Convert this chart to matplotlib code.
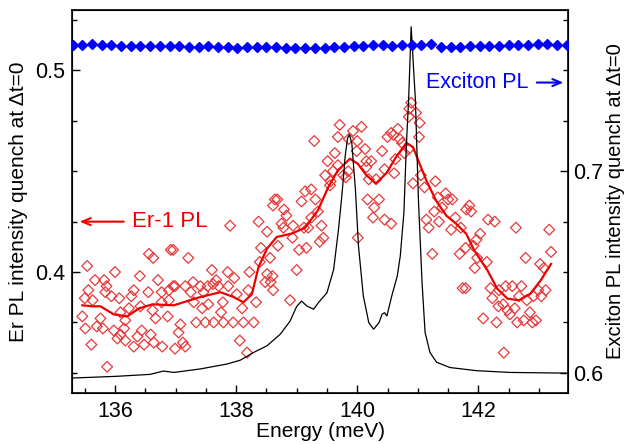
import matplotlib
matplotlib.use("Agg")
import matplotlib.pyplot as plt
import numpy as np

plt.rcParams['font.family'] = ['Liberation Sans', 'DejaVu Sans']

# Er-1 PL quench (left axis), scatter
er_energy = [135.54,136.56,136.63,136.92,136.00,136.41,136.71,135.67,135.82,135.56,135.86,136.31,136.55,136.77,136.89,
             135.50,135.63,135.84,135.94,136.07,136.27,136.42,136.77,136.89,135.46,135.76,136.09,136.23,136.17,136.62,
             136.67,136.87,135.51,135.70,135.80,135.98,136.15,136.44,136.09,136.37,136.59,136.04,136.17,135.61,136.31,
             136.48,136.64,136.78,135.87,
             137.90,138.37,138.51,136.96,137.21,138.41,138.39,137.60,137.86,137.97,138.22,138.51,136.96,136.99,137.16,
             137.29,137.41,137.53,137.62,137.71,137.87,137.25,137.46,137.67,138.01,138.20,138.48,137.30,137.54,137.78,
             138.33,137.44,137.75,138.10,137.34,137.49,137.63,137.79,137.95,138.12,138.29,137.08,137.05,137.12,136.99,
             137.16,138.06,138.18,
             139.71,140.07,139.93,139.29,139.68,139.86,140.00,139.99,140.13,139.63,139.51,140.15,139.68,139.60,139.47,
             139.77,139.85,139.81,139.56,139.55,139.24,139.14,138.64,138.68,138.61,139.08,139.31,138.79,139.35,138.83,
             139.24,138.75,138.94,139.12,139.41,138.78,139.19,138.93,139.44,139.38,140.01,138.69,139.04,139.16,138.56,
             139.00,138.60,138.57,138.61,138.89,
             140.89,140.86,140.85,140.97,141.03,140.67,140.60,140.50,140.56,141.02,140.70,140.74,140.85,140.78,140.41,
             140.23,140.63,140.15,140.45,140.61,140.19,140.31,141.05,141.29,140.92,141.11,140.17,140.36,140.28,141.46,
             141.57,141.50,141.33,141.40,141.27,140.26,140.45,140.56,141.14,141.35,141.62,141.18,141.55,141.71,141.24,
             141.69,141.74,141.80,
             141.85,141.88,142.16,142.27,142.62,143.17,142.03,141.97,141.79,141.92,143.20,141.98,142.14,142.78,143.02,
             143.08,141.94,141.79,142.20,142.45,142.56,142.71,142.34,143.11,142.99,142.23,142.67,142.80,142.91,143.04,
             142.33,142.41,142.48,142.60,142.52,142.85,142.08,142.30,142.64,142.75,142.89,142.95,142.42]
er_quench = [0.403,0.409,0.407,0.411,0.400,0.398,0.396,0.396,0.396,0.391,0.393,0.391,0.390,0.390,0.391,
             0.387,0.386,0.390,0.388,0.387,0.388,0.383,0.385,0.386,0.378,0.377,0.380,0.382,0.376,0.381,
             0.377,0.378,0.372,0.373,0.372,0.371,0.372,0.371,0.369,0.368,0.369,0.367,0.366,0.364,0.363,
             0.364,0.365,0.363,0.353,
             0.423,0.425,0.420,0.411,0.407,0.412,0.405,0.401,0.400,0.397,0.400,0.399,0.393,0.393,0.393,
             0.395,0.393,0.393,0.394,0.393,0.393,0.390,0.390,0.396,0.389,0.391,0.395,0.385,0.384,0.385,
             0.385,0.382,0.380,0.382,0.375,0.375,0.375,0.375,0.375,0.375,0.375,0.374,0.370,0.365,0.362,
             0.363,0.366,0.360,
             0.473,0.472,0.470,0.465,0.467,0.466,0.465,0.460,0.461,0.459,0.455,0.455,0.453,0.450,0.448,
             0.448,0.450,0.447,0.445,0.443,0.441,0.440,0.436,0.436,0.433,0.435,0.436,0.431,0.430,0.428,
             0.427,0.424,0.423,0.422,0.423,0.422,0.422,0.417,0.417,0.415,0.417,0.413,0.411,0.412,0.407,
             0.401,0.398,0.395,0.391,0.386,
             0.484,0.481,0.477,0.479,0.474,0.471,0.468,0.467,0.469,0.467,0.466,0.464,0.461,0.459,0.460,
             0.455,0.456,0.452,0.451,0.449,0.446,0.446,0.448,0.445,0.444,0.442,0.436,0.436,0.432,0.439,
             0.436,0.436,0.437,0.432,0.430,0.427,0.426,0.424,0.426,0.425,0.427,0.422,0.421,0.422,0.409,
             0.409,0.392,0.431,
             0.433,0.430,0.426,0.425,0.422,0.421,0.419,0.416,0.412,0.413,0.410,0.407,0.405,0.407,0.404,
             0.402,0.402,0.392,0.392,0.393,0.393,0.393,0.391,0.391,0.391,0.387,0.388,0.386,0.388,0.388,
             0.383,0.384,0.381,0.382,0.379,0.380,0.377,0.375,0.375,0.376,0.375,0.376,0.360]

# Smoothed Er-1 PL curve
smooth_energy = [135.46,135.63,135.76,135.98,136.20,136.40,136.62,136.97,137.41,137.74,137.96,138.12,138.26,138.37,
                 138.51,138.67,138.91,139.14,139.35,139.52,139.68,139.88,140.01,140.15,140.31,140.48,140.64,140.81,
                 140.92,141.03,141.14,141.30,141.47,141.63,141.80,141.93,142.15,142.31,142.48,142.67,142.86,143.03,143.20]
smooth_quench = [0.3835,0.383,0.383,0.379,0.378,0.382,0.384,0.3835,0.3876,0.390,0.3876,0.385,0.389,0.4025,
                 0.4116,0.4174,0.419,0.422,0.4306,0.442,0.4504,0.4562,0.4537,0.448,0.444,0.449,0.457,0.464,
                 0.462,0.4537,0.4455,0.4355,0.428,0.424,0.419,0.4108,0.4008,0.3918,0.3868,0.386,0.3893,0.3959,0.404]

# Exciton PL quench (right axis)
exc_energy = [135.30,135.46,135.62,135.78,135.94,136.10,136.26,136.42,136.58,136.74,136.90,137.06,137.22,137.38,
              137.54,137.70,137.86,138.02,138.18,138.34,138.50,138.66,138.82,138.98,139.14,139.30,139.46,139.62,
              139.78,139.94,140.10,140.26,140.42,140.58,140.74,140.90,141.06,141.22,141.38,141.54,141.70,141.86,
              142.02,142.18,142.34,142.50,142.66,142.82,142.98,143.14,143.30,143.46]
exc_quench = [0.7624,0.7626,0.7632,0.7628,0.7624,0.7622,0.7622,0.7620,0.7620,0.7620,0.7621,0.7620,0.7618,0.7618,
              0.7619,0.7618,0.7616,0.7610,0.7614,0.7614,0.7616,0.7615,0.7613,0.7609,0.7613,0.7612,0.7612,0.7614,
              0.7618,0.7620,0.7622,0.7624,0.7624,0.7622,0.7624,0.7624,0.7626,0.7630,0.7616,0.7614,0.7618,0.7620,
              0.7620,0.7622,0.7622,0.7624,0.7626,0.7626,0.7630,0.7632,0.7626,0.7624]

# Exciton PL spectrum (arb. units)
pl_energy = [135.29,136.03,136.58,136.80,136.97,137.41,137.85,138.07,138.29,138.51,138.73,138.89,139.00,139.08,
             139.17,139.28,139.36,139.50,139.61,139.69,139.75,139.80,139.84,139.87,139.91,139.97,140.02,140.10,
             140.19,140.27,140.36,140.41,140.45,140.49,140.57,140.66,140.71,140.77,140.81,140.85,140.89,140.96,
             141.01,141.07,141.12,141.20,141.31,141.53,141.97,142.52,143.48]
pl_intensity = [0.000,0.005,0.0105,0.020,0.016,0.026,0.040,0.051,0.073,0.092,0.125,0.162,0.204,0.219,
                0.205,0.196,0.215,0.243,0.309,0.423,0.527,0.631,0.683,0.693,0.669,0.536,0.376,0.234,
                0.158,0.139,0.158,0.182,0.186,0.177,0.234,0.290,0.347,0.470,0.659,0.801,1.000,0.792,
                0.508,0.272,0.130,0.073,0.045,0.030,0.021,0.016,0.014]

fig = plt.figure(figsize=(6.3, 4.44), dpi=100)
ax = fig.add_axes([0.1143, 0.1149, 0.9016 - 0.1143, 0.9775 - 0.1149])
ax3 = ax.twinx()
ax2 = ax.twinx()

# Black PL spectrum on hidden axis
ax3.plot(pl_energy, pl_intensity, color='black', lw=0.9)
ax3.set_ylim(-0.0425, 1.048)
ax3.axis('off')

ax.scatter(er_energy, er_quench, marker='D', s=30, facecolors='none', edgecolors='#e8393a', linewidths=0.9, zorder=3)
ax.plot(smooth_energy, smooth_quench, color='#ee0000', lw=1.6, zorder=4)

ax2.plot(exc_energy, exc_quench, marker='D', ms=5.4, color='#0000ff', lw=0, zorder=5)

ax.set_xlim(135.29, 143.48)
ax.set_ylim(0.34, 0.53)
ax2.set_ylim(0.59, 0.78)

ax.set_xticks([136, 138, 140, 142])
ax.set_xticks(np.arange(135.5, 143.5, 0.5), minor=True)
ax.set_yticks([0.4, 0.5])
ax.set_yticks(np.arange(0.35, 0.53, 0.025), minor=True)
ax2.set_yticks([0.6, 0.7])
ax2.set_yticks(np.arange(0.6, 0.78, 0.025), minor=True)

for a in (ax, ax2):
    a.tick_params(which='major', direction='in', length=6, width=1, labelsize=15.5)
    a.tick_params(which='minor', direction='in', length=3.5, width=1)
ax.tick_params(axis='y', right=False, which='both', pad=5)
ax2.tick_params(axis='y', pad=4)
ax.tick_params(axis='x', top=False, which='both', pad=6)

ax.set_xlabel('Energy (meV)', fontsize=15, labelpad=0)
ax.set_ylabel('Er PL intensity quench at \u0394t=0', fontsize=15, labelpad=5)
ax2.set_ylabel('Exciton PL intensity quench at \u0394t=0', fontsize=14.5, rotation=90, labelpad=2)

for sp in ax.spines.values():
    sp.set_linewidth(1.2)

ax.annotate('', xy=(135.37, 0.425), xytext=(136.19, 0.425),
            arrowprops=dict(arrowstyle='->,head_length=0.6,head_width=0.25', color='#ee0000', lw=1.5))
ax.text(136.28, 0.425, 'Er-1 PL', color='#ee0000', fontsize=16, va='center', ha='left')

ax2.annotate('', xy=(143.45, 0.744), xytext=(142.92, 0.744),
             arrowprops=dict(arrowstyle='->,head_length=0.6,head_width=0.25', color='#0000ff', lw=1.5))
ax2.text(142.82, 0.744, 'Exciton PL', color='#0000ff', fontsize=15.5, va='center', ha='right')

fig.savefig('out.png', dpi=100)
